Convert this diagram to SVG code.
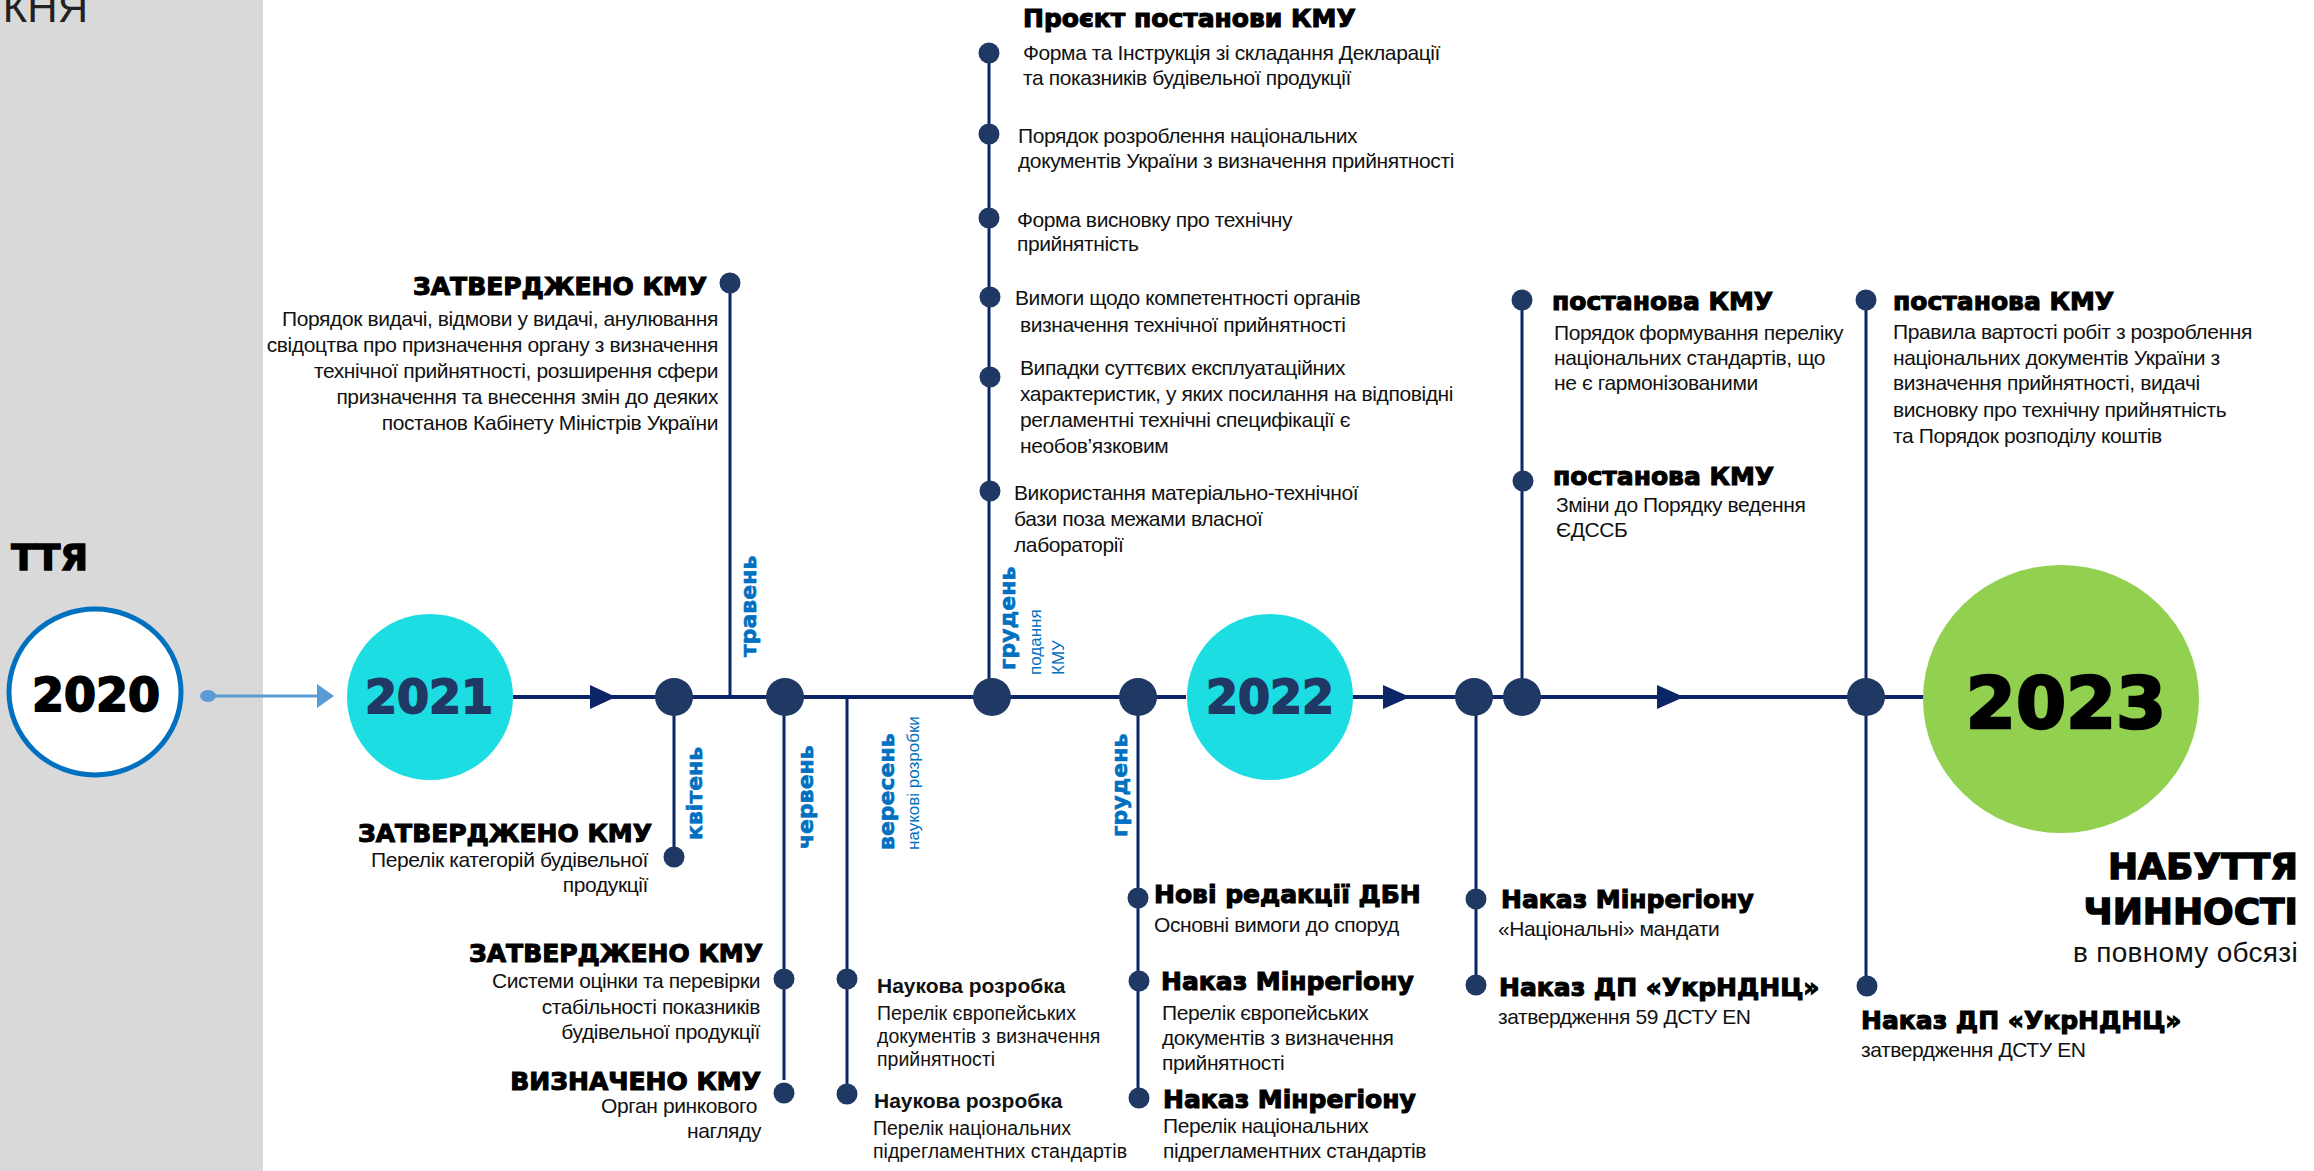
<svg xmlns="http://www.w3.org/2000/svg" width="2314" height="1171" viewBox="0 0 2314 1171">
<defs>
<style>
.hv{font-family:"DejaVu Sans",sans-serif;font-weight:bold;fill:#000;stroke:#000;stroke-width:1.1px}
.tx{font-family:"Liberation Sans",Arial,sans-serif;font-size:21px;fill:#111;letter-spacing:-0.4px}
.tn{font-family:"Liberation Sans",Arial,sans-serif;font-size:19.5px;fill:#111}
.tb{font-family:"Liberation Sans",Arial,sans-serif;font-size:21px;font-weight:bold;fill:#111}
.mo{font-family:"DejaVu Sans",sans-serif;font-weight:bold;font-size:22px;fill:#0070C0;stroke:#0070C0;stroke-width:0.6px}
.ms{font-family:"Liberation Sans",Arial,sans-serif;font-size:17px;fill:#0070C0}
.yr{font-family:"DejaVu Sans",sans-serif;font-weight:bold;font-size:46px;text-anchor:middle;stroke-width:1.8px}
.e{text-anchor:end}
.ln{stroke:#0B2566;stroke-width:3;fill:none}
.main{stroke:#0B2566;stroke-width:4;fill:none}
.dot{fill:#1F3864}
.ah{fill:#0B2566}
</style>
</defs>
<rect width="2314" height="1171" fill="#fff"/>
<g id="panel">
<rect x="0" y="0" width="263" height="1171" fill="#D9D9D9"/>
<text x="88" y="22" class="e" style="font-family:'Liberation Sans',Arial,sans-serif;font-size:42px;fill:#222">КНЯ</text>
<text x="88" y="570" class="hv e" style="font-size:36px;stroke-width:1.4px">ТТЯ</text>
</g>
<g id="connectors">
<line x1="208" y1="696" x2="322" y2="696" stroke="#5B9BD5" stroke-width="3"/>
<ellipse cx="208" cy="696" rx="8" ry="6" fill="#5B9BD5"/>
<polygon points="317,684 334,696 317,708" fill="#5B9BD5"/>
<path class="main" d="M513 697H1186M1352 697H1925"/>
<polygon class="ah" points="590,685 616,697 590,709"/>
<polygon class="ah" points="1383,685 1410,697 1383,709"/>
<polygon class="ah" points="1657,685 1684,697 1657,709"/>
<path class="ln" d="M674 697V857M730 283V697M784 697V1080M847 697V1094M989 53V697M1138 697V1098M1476 697V985M1522 300V697M1866 300V986"/>
</g>
<g id="y2020">
<ellipse cx="95" cy="692" rx="86" ry="83" fill="#fff" stroke="#0070C0" stroke-width="5"/>
<text x="96" y="711" class="hv yr">2020</text>
</g>
<g id="y2021">
<circle cx="430" cy="697" r="83" fill="#1CDDE2"/>
<text x="429" y="713" class="hv yr" style="fill:#203864;stroke:#203864">2021</text>
</g>
<g id="y2022">
<circle cx="1270" cy="697" r="83" fill="#1CDDE2"/>
<text x="1270" y="713" class="hv yr" style="fill:#203864;stroke:#203864">2022</text>
</g>
<g id="y2023">
<ellipse cx="2061" cy="699" rx="138" ry="134" fill="#92D050"/>
<text x="2066" y="728" class="hv yr" style="font-size:72px;stroke-width:2.6px">2023</text>
<text x="2298" y="879" class="hv e" style="font-size:36px;stroke-width:1.4px">НАБУТТЯ</text>
<text x="2298" y="924" class="hv e" style="font-size:36px;stroke-width:1.4px">ЧИННОСТІ</text>
<text x="2298" y="962" class="e" style="font-family:'Liberation Sans',Arial,sans-serif;font-size:28px;fill:#111;letter-spacing:0.3px">в повному обсязі</text>
</g>
<g id="tl-dots">
<circle class="dot" cx="674" cy="697" r="19"/>
<circle class="dot" cx="785" cy="697" r="19"/>
<circle class="dot" cx="992" cy="697" r="19"/>
<circle class="dot" cx="1138" cy="697" r="19"/>
<circle class="dot" cx="1474" cy="697" r="19"/>
<circle class="dot" cx="1522" cy="697" r="19"/>
<circle class="dot" cx="1866" cy="697" r="19"/>
</g>
<g id="may-kmu">
<circle class="dot" cx="730" cy="283" r="10.5"/>
<text x="756" y="657" class="mo" transform="rotate(-90 756 657)">травень</text>
<text x="707" y="295" class="hv e" style="font-size:25px">ЗАТВЕРДЖЕНО КМУ</text>
<text class="tx e" x="718" y="326">Порядок видачі, відмови у видачі, анулювання</text>
<text class="tx e" x="718" y="352">свідоцтва про призначення органу з визначення</text>
<text class="tx e" x="718" y="378">технічної прийнятності, розширення сфери</text>
<text class="tx e" x="718" y="404">призначення та внесення змін до деяких</text>
<text class="tx e" x="718" y="430">постанов Кабінету Міністрів України</text>
</g>
<g id="apr-kmu">
<circle class="dot" cx="674" cy="857" r="10.5"/>
<text x="702" y="840" class="mo" transform="rotate(-90 702 840)">квітень</text>
<text x="652" y="842" class="hv e" style="font-size:25px">ЗАТВЕРДЖЕНО КМУ</text>
<text class="tx e" x="648" y="867">Перелік категорій будівельної</text>
<text class="tx e" x="648" y="892">продукції</text>
</g>
<g id="jun-kmu">
<circle class="dot" cx="784" cy="979" r="10.5"/>
<circle class="dot" cx="784" cy="1093" r="10.5"/>
<text x="813" y="849" class="mo" transform="rotate(-90 813 849)">червень</text>
<text x="763" y="962" class="hv e" style="font-size:25px">ЗАТВЕРДЖЕНО КМУ</text>
<text class="tx e" x="760" y="988">Системи оцінки та перевірки</text>
<text class="tx e" x="760" y="1014">стабільності  показників</text>
<text class="tx e" x="760" y="1039">будівельної продукції</text>
<text x="761" y="1090" class="hv e" style="font-size:25px">ВИЗНАЧЕНО КМУ</text>
<text class="tx e" x="757" y="1113">Орган ринкового</text>
<text class="tx e" x="761" y="1138">нагляду</text>
</g>
<g id="sep-research">
<circle class="dot" cx="847" cy="979" r="10.5"/>
<circle class="dot" cx="847" cy="1094" r="10.5"/>
<text x="894" y="850" class="mo" transform="rotate(-90 894 850)">вересень</text>
<text x="919" y="850" class="ms" transform="rotate(-90 919 850)">наукові розробки</text>
<text class="tb" x="877" y="993">Наукова розробка</text>
<text class="tn" x="877" y="1020">Перелік європейських</text>
<text class="tn" x="877" y="1043">документів з визначення</text>
<text class="tn" x="877" y="1066">прийнятності</text>
<text class="tb" x="874" y="1108">Наукова розробка</text>
<text class="tn" x="873" y="1135">Перелік національних</text>
<text class="tn" x="873" y="1158">підрегламентних стандартів</text>
</g>
<g id="dec-draft">
<circle class="dot" cx="989" cy="53" r="10.5"/>
<circle class="dot" cx="989" cy="134" r="10.5"/>
<circle class="dot" cx="989" cy="218" r="10.5"/>
<circle class="dot" cx="990" cy="297" r="10.5"/>
<circle class="dot" cx="990" cy="377" r="10.5"/>
<circle class="dot" cx="990" cy="491" r="10.5"/>
<text x="1015" y="670" class="mo" transform="rotate(-90 1015 670)">грудень</text>
<text x="1041" y="675" class="ms" transform="rotate(-90 1041 675)">подання</text>
<text x="1064" y="675" class="ms" transform="rotate(-90 1064 675)">КМУ</text>
<text x="1023" y="27" class="hv" style="font-size:25px">Проєкт постанови КМУ</text>
<text class="tx" x="1023" y="60">Форма та Інструкція зі складання Декларації</text>
<text class="tx" x="1023" y="85">та показників будівельної продукції</text>
<text class="tx" x="1018" y="143">Порядок розроблення національних</text>
<text class="tx" x="1018" y="168">документів України з визначення прийнятності</text>
<text class="tx" x="1017" y="227">Форма висновку про технічну</text>
<text class="tx" x="1017" y="251">прийнятність</text>
<text class="tx" x="1015" y="305">Вимоги щодо компетентності органів</text>
<text class="tx" x="1020" y="332">визначення технічної прийнятності</text>
<text class="tx" x="1020" y="375">Випадки суттєвих експлуатаційних</text>
<text class="tx" x="1020" y="401">характеристик, у яких посилання на відповідні</text>
<text class="tx" x="1020" y="427">регламентні технічні специфікації є</text>
<text class="tx" x="1020" y="453">необов’язковим</text>
<text class="tx" x="1014" y="500">Використання матеріально-технічної</text>
<text class="tx" x="1014" y="526">бази поза межами власної</text>
<text class="tx" x="1014" y="552">лабораторії</text>
</g>
<g id="dec-minregion">
<circle class="dot" cx="1138" cy="898" r="10.5"/>
<circle class="dot" cx="1139" cy="981" r="10.5"/>
<circle class="dot" cx="1139" cy="1098" r="10.5"/>
<text x="1127" y="837" class="mo" transform="rotate(-90 1127 837)">грудень</text>
<text x="1154" y="903" class="hv" style="font-size:25px">Нові редакції ДБН</text>
<text class="tx" x="1154" y="932">Основні вимоги до споруд</text>
<text x="1161" y="990" class="hv" style="font-size:25px">Наказ Мінрегіону</text>
<text class="tx" x="1162" y="1020">Перелік європейських</text>
<text class="tx" x="1162" y="1045">документів з визначення</text>
<text class="tx" x="1162" y="1070">прийнятності</text>
<text x="1163" y="1108" class="hv" style="font-size:25px">Наказ Мінрегіону</text>
<text class="tx" x="1163" y="1133">Перелік національних</text>
<text class="tx" x="1163" y="1158">підрегламентних стандартів</text>
</g>
<g id="y2022-orders">
<circle class="dot" cx="1476" cy="899" r="10.5"/>
<circle class="dot" cx="1476" cy="985" r="10.5"/>
<text x="1501" y="908" class="hv" style="font-size:25px">Наказ Мінрегіону</text>
<text class="tx" x="1498" y="936">«Національні» мандати</text>
<text x="1499" y="996" class="hv" style="font-size:25px">Наказ ДП «УкрНДНЦ»</text>
<text class="tx" x="1498" y="1024">затвердження 59 ДСТУ EN</text>
</g>
<g id="y2022-resolutions">
<circle class="dot" cx="1522" cy="300" r="10.5"/>
<circle class="dot" cx="1523" cy="481" r="10.5"/>
<text x="1552" y="310" class="hv" style="font-size:25px">постанова КМУ</text>
<text class="tx" x="1554" y="340">Порядок формування переліку</text>
<text class="tx" x="1554" y="365">національних стандартів, що</text>
<text class="tx" x="1554" y="390">не є гармонізованими</text>
<text x="1553" y="485" class="hv" style="font-size:25px">постанова КМУ</text>
<text class="tx" x="1556" y="512">Зміни до Порядку ведення</text>
<text class="tx" x="1556" y="537">ЄДССБ</text>
</g>
<g id="y2023-events">
<circle class="dot" cx="1866" cy="300" r="10.5"/>
<circle class="dot" cx="1867" cy="986" r="10.5"/>
<text x="1893" y="310" class="hv" style="font-size:25px">постанова КМУ</text>
<text class="tx" x="1893" y="339">Правила вартості робіт з розроблення</text>
<text class="tx" x="1893" y="365">національних документів України з</text>
<text class="tx" x="1893" y="390">визначення прийнятності, видачі</text>
<text class="tx" x="1893" y="417">висновку про технічну прийнятність</text>
<text class="tx" x="1893" y="443">та Порядок розподілу коштів</text>
<text x="1861" y="1029" class="hv" style="font-size:25px">Наказ ДП «УкрНДНЦ»</text>
<text class="tx" x="1861" y="1057">затвердження ДСТУ EN</text>
</g>
</svg>
